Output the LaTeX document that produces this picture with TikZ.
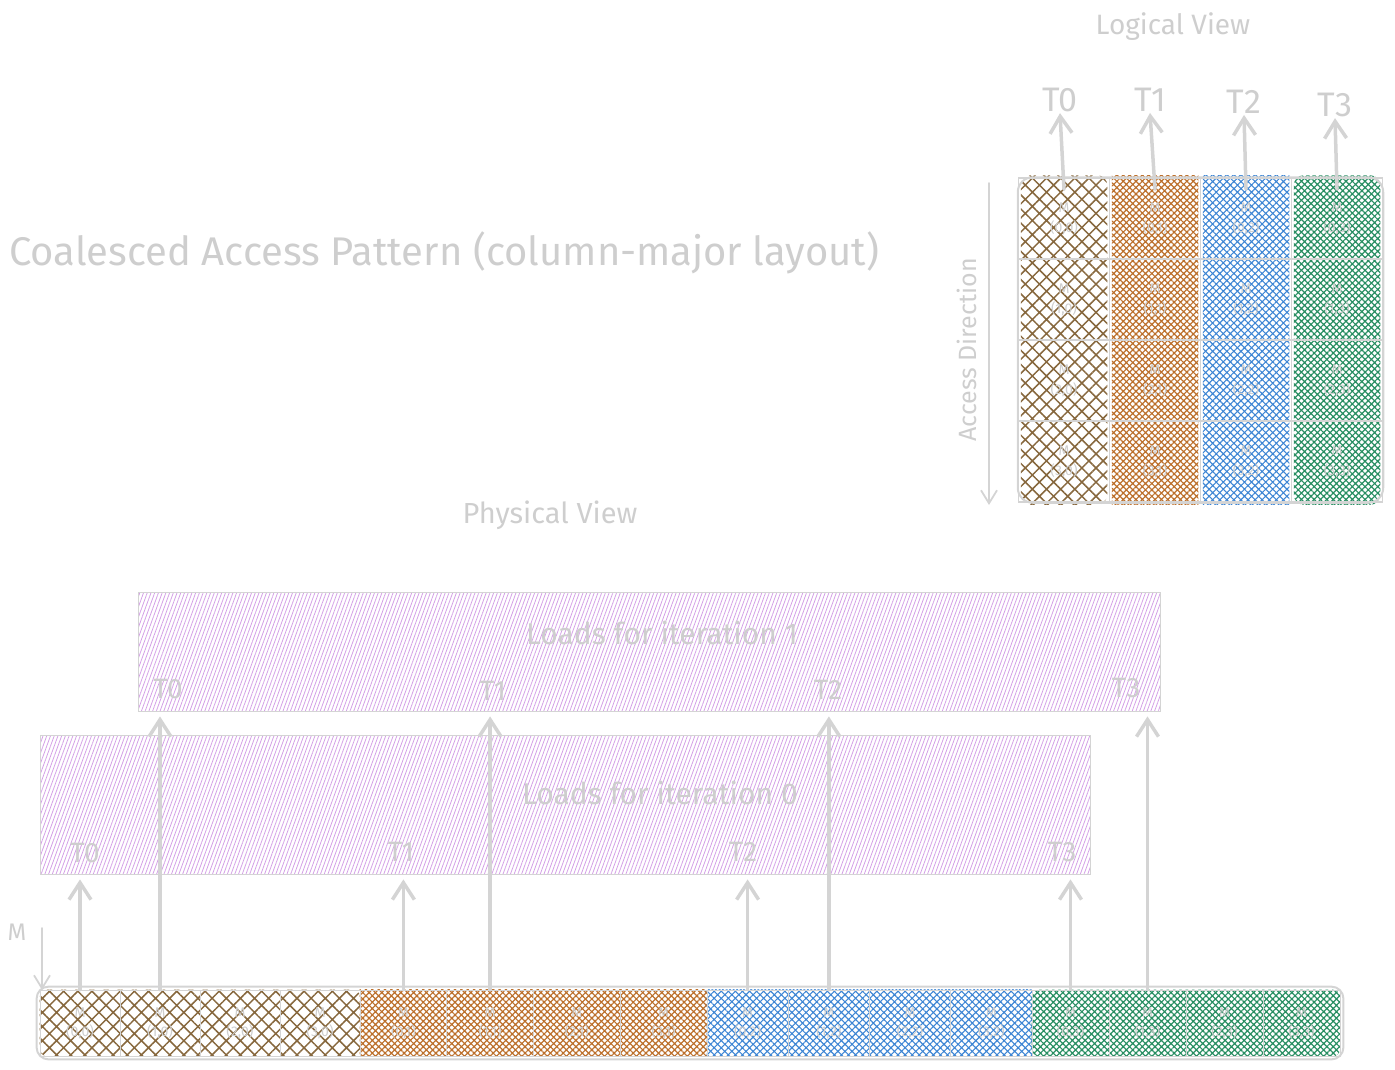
\documentclass[tikz,border=0pt]{standalone}
\usepackage{fontspec}
\setmainfont{Fira Sans}
\usetikzlibrary{patterns.meta,arrows.meta}
\pgfdeclarelayer{background}
\pgfsetlayers{background,main}
\definecolor{txtgray}{RGB}{206,206,206}
\definecolor{linegray}{RGB}{212,212,212}
\definecolor{brownc}{RGB}{135,104,62}
\definecolor{orangec}{RGB}{188,112,44}
\definecolor{bluec}{RGB}{62,134,212}
\definecolor{greenc}{RGB}{40,142,98}
\definecolor{purplec}{RGB}{212,160,230}
\tikzset{
  lcell/.style={draw=linegray, line width=1.5pt, minimum width=91pt, minimum height=81pt,
    inner sep=0pt, align=center, text=txtgray, font=\fontsize{14}{20}\selectfont},
  pcell/.style={draw=linegray, line width=0.8pt, minimum width=#1, minimum height=66pt,
    inner sep=0pt, align=center, text=txtgray, font=\fontsize{14}{19}\selectfont},
  band/.style={draw=linegray, line width=0.8pt, inner sep=0pt,
    pattern={Lines[angle=70,distance=3.5pt,line width=0.8pt]}, pattern color=purplec},
  lbl/.style={text=txtgray, font=\fontsize{#1}{#1}\selectfont, inner sep=1pt},
  arr/.style={draw=linegray, line width=3.5pt, line cap=round,
    -{Straight Barb[length=17pt,width=22pt,line width=3.5pt]}},
  thinarr/.style={draw=linegray, line width=1.8pt, line cap=round,
    -{Straight Barb[length=13pt,width=16pt,line width=1.8pt]}},
}
\begin{document}
\begin{tikzpicture}[x=1pt,y=-1pt]
  \useasboundingbox (0,0) rectangle (1395,1069);
  % texts
  \node[lbl=40, anchor=west] (title) at (8,253) {Coalesced Access Pattern (column-major layout)};
  \node[lbl=28] (logical) at (1173,27) {Logical View};
  \node[lbl=29] (physical) at (550,515) {Physical View};
  \node[lbl=25, rotate=90] (access) at (967,350) {Access Direction};
  \node[lbl=24] (mlbl) at (17,932) {M};
  % logical view
  \draw
    (1064,218.5) node[lcell] (l00) {M\\(0,0)}
    (1064,299.5) node[lcell] (l10) {M\\(1,0)}
    (1064,380.5) node[lcell] (l20) {M\\(2,0)}
    (1064,461.5) node[lcell] (l30) {M\\(3,0)}
    (1155,218.5) node[lcell] (l01) {M\\(0,1)}
    (1155,299.5) node[lcell] (l11) {M\\(1,1)}
    (1155,380.5) node[lcell] (l21) {M\\(2,1)}
    (1155,461.5) node[lcell] (l31) {M\\(3,1)}
    (1246,218.5) node[lcell] (l02) {M\\(0,2)}
    (1246,299.5) node[lcell] (l12) {M\\(1,2)}
    (1246,380.5) node[lcell] (l22) {M\\(2,2)}
    (1246,461.5) node[lcell] (l32) {M\\(3,2)}
    (1337,218.5) node[lcell] (l03) {M\\(0,3)}
    (1337,299.5) node[lcell] (l13) {M\\(1,3)}
    (1337,380.5) node[lcell] (l23) {M\\(2,3)}
    (1337,461.5) node[lcell] (l33) {M\\(3,3)};
  \draw[draw=linegray, line width=2pt, rounded corners=15pt]
    (l00.north west) rectangle (l33.south east);
  \node[lbl=34] (lt0) at (1060,100) {T0};
  \node[lbl=34] (lt1) at (1150,100) {T1};
  \node[lbl=34] (lt2) at (1244,102) {T2};
  \node[lbl=34] (lt3) at (1335,105) {T3};
  \begin{scope}[arr]
    \draw ([yshift=-12pt]l00.north) to (lt0.south);
    \draw ([yshift=-12pt]l01.north) to (lt1.south);
    \draw ([yshift=-12pt]l02.north) to (lt2.south);
    \draw ([yshift=-12pt]l03.north) to (lt3.south);
  \end{scope}
  \coordinate (adtop) at (989,183);
  \coordinate (adbot) at (989,505);
  \draw[thinarr] (adtop) to (adbot);
  % physical view
  \draw
    (80,1023) node[pcell=80pt] (p00) {M\\(0,0)}
    (160,1023) node[pcell=80pt] (p10) {M\\(1,0)}
    (240,1023) node[pcell=80pt] (p20) {M\\(2,0)}
    (320,1023) node[pcell=80pt] (p30) {M\\(3,0)}
    (403.4,1023) node[pcell=86.75pt] (p01) {M\\(0,1)}
    (490.1,1023) node[pcell=86.75pt] (p11) {M\\(1,1)}
    (576.9,1023) node[pcell=86.75pt] (p21) {M\\(2,1)}
    (663.6,1023) node[pcell=86.75pt] (p31) {M\\(3,1)}
    (747.6,1023) node[pcell=81.25pt] (p02) {M\\(0,2)}
    (828.9,1023) node[pcell=81.25pt] (p12) {M\\(1,2)}
    (910.1,1023) node[pcell=81.25pt] (p22) {M\\(2,2)}
    (991.4,1023) node[pcell=81.25pt] (p32) {M\\(3,2)}
    (1070.5,1023) node[pcell=77pt] (p03) {M\\(0,3)}
    (1147.5,1023) node[pcell=77pt] (p13) {M\\(1,3)}
    (1224.5,1023) node[pcell=77pt] (p23) {M\\(2,3)}
    (1301.5,1023) node[pcell=77pt] (p33) {M\\(3,3)};
  \draw[draw=linegray, line width=2pt, rounded corners=12pt]
    ([shift={(-3,-3)}]p00.north west) rectangle ([shift={(3,3)}]p33.south east);
  \node[band, minimum width=1022pt, minimum height=119pt] (band1) at (649,651.5) {};
  \node[band, minimum width=1050pt, minimum height=139pt] (band0) at (565,804.5) {};
  \node[lbl=30] (it1) at (662,633) {Loads for iteration 1};
  \node[lbl=30] (it0) at (660,793) {Loads for iteration 0};
  \node[lbl=28] (b1t0) at (168,689) {T0};
  \node[lbl=28] (b1t1) at (493,691) {T1};
  \node[lbl=28] (b1t2) at (828,690) {T2};
  \node[lbl=28] (b1t3) at (1126,688) {T3};
  \node[lbl=28] (b0t0) at (85,853) {T0};
  \node[lbl=28] (b0t1) at (401,852) {T1};
  \node[lbl=28] (b0t2) at (743,852) {T2};
  \node[lbl=28] (b0t3) at (1062,852) {T3};
  \coordinate (mtop) at (42,928);
  \coordinate (mbot) at (42,990);
  \draw[thinarr] (mtop) to (mbot);
  \begin{scope}[arr, shorten >=5pt]
    \draw (p00.north) to (p00.north |- band0.south);
    \draw (p01.north) to (p01.north |- band0.south);
    \draw (p02.north) to (p02.north |- band0.south);
    \draw (p03.north) to (p03.north |- band0.south);
    \draw (p10.north) to (p10.north |- band1.south);
    \draw (p11.north) to (p11.north |- band1.south);
    \draw (p12.north) to (p12.north |- band1.south);
    \draw (p13.north) to (p13.north |- band1.south);
  \end{scope}
  % fills
  \begin{pgfonlayer}{background}
    \fill[pattern={Hatch[angle=45,distance=10pt,line width=1.5pt]}, pattern color=brownc, rounded corners=10pt]
      ([shift={(3,-2)}]l00.north west) rectangle ([shift={(-3,2)}]l30.south east);
    \fill[pattern={Hatch[angle=45,distance=4.5pt,line width=1.2pt]}, pattern color=orangec]
      ([shift={(3,-2)}]l01.north west) rectangle ([shift={(-3,2)}]l31.south east);
    \fill[pattern={Hatch[angle=45,distance=5pt,line width=1.1pt]}, pattern color=bluec]
      ([shift={(3,-2)}]l02.north west) rectangle ([shift={(-3,2)}]l32.south east);
    \fill[pattern={Hatch[angle=45,distance=4.5pt,line width=1.2pt]}, pattern color=greenc, rounded corners=10pt]
      ([shift={(3,-2)}]l03.north west) rectangle ([shift={(-3,2)}]l33.south east);
    \fill[pattern={Hatch[angle=45,distance=10pt,line width=1.5pt]}, pattern color=brownc, rounded corners=8pt]
      (p00.north west) rectangle (p30.south east);
    \fill[pattern={Hatch[angle=45,distance=4.5pt,line width=1.2pt]}, pattern color=orangec]
      (p01.north west) rectangle (p31.south east);
    \fill[pattern={Hatch[angle=45,distance=5pt,line width=1.1pt]}, pattern color=bluec]
      (p02.north west) rectangle (p32.south east);
    \fill[pattern={Hatch[angle=45,distance=4.5pt,line width=1.2pt]}, pattern color=greenc, rounded corners=8pt]
      (p03.north west) rectangle (p33.south east);
  \end{pgfonlayer}
\end{tikzpicture}
\end{document}
